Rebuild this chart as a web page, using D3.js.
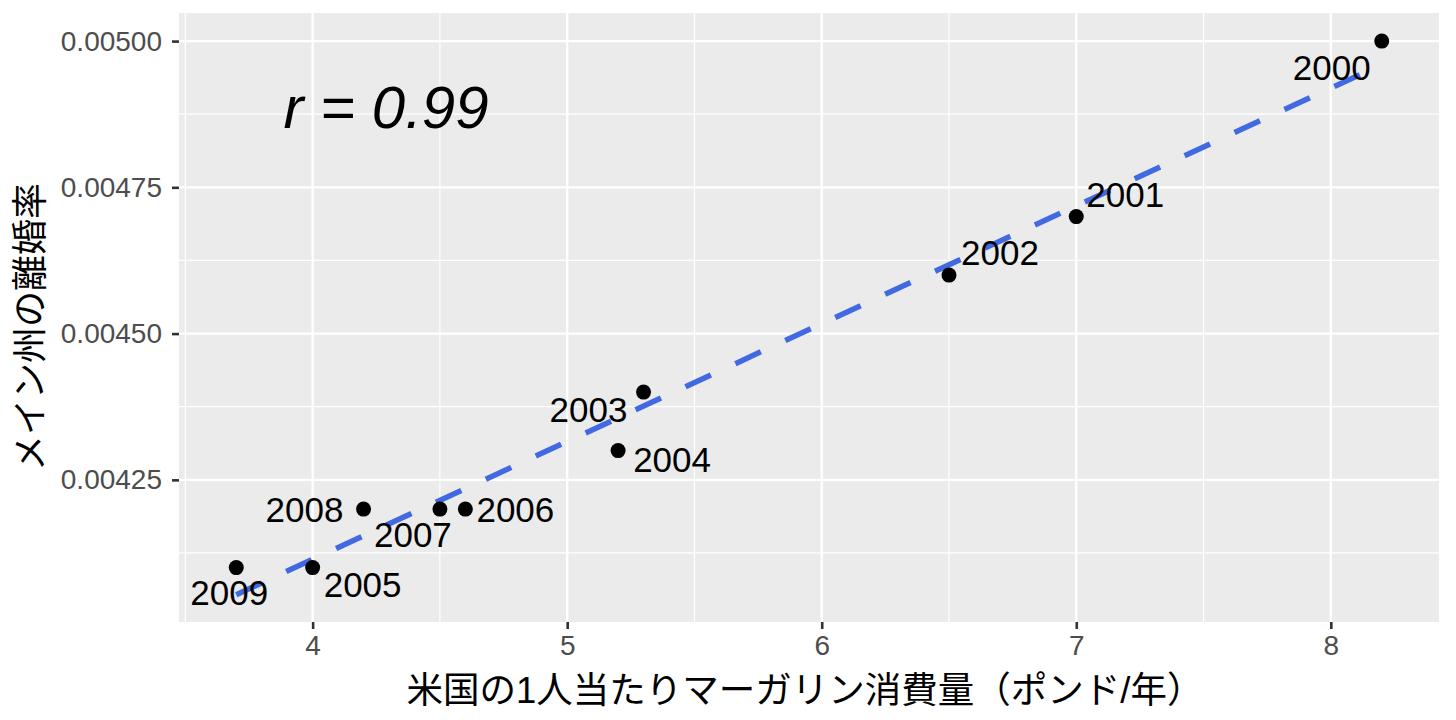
<!DOCTYPE html>
<html>
<head>
<meta charset="utf-8">
<script src="https://cdn.jsdelivr.net/npm/d3@7"></script>
<style>
  body { margin: 0; background: #ffffff; }
  text { font-family: 'Liberation Sans', 'Noto Sans CJK JP', sans-serif; }
</style>
</head>
<body>
<div id="chart"></div>
<script>
// データ
var years = [2000, 2001, 2002, 2003, 2004, 2005, 2006, 2007, 2008, 2009];
var margarine = [8.2, 7.0, 6.5, 5.3, 5.2, 4.0, 4.6, 4.5, 4.2, 3.7];
var divorceRate = [0.0050, 0.0047, 0.0046, 0.0044, 0.0043, 0.0041, 0.0042, 0.0042, 0.0042, 0.0041];
var xTicks = [4, 5, 6, 7, 8];
var yTicks = [0.00425, 0.00450, 0.00475, 0.00500];
var xTitle = '米国の1人当たりマーガリン消費量（ポンド/年）';
var yTitle = 'メイン州の離婚率';
var rText = 'r = 0.99';

// 画面
const width = 1456;
const height = 720;
const panel = {left: 179, right: 1439, top: 13, bottom: 622};
// ラベルのずらし (px, 点からの距離)
const labelNudge = [[-50, 39], [49, -10], [51, -10], [-55, 30], [54, 21],
                    [50, 29], [50, 13], [-27, 38], [-59, 13], [-7, 37]];

var points = years.map(function(y, i) {
  return {year: y, x: margarine[i], y: divorceRate[i], nudge: labelNudge[i]};
});

var svg = d3.select('#chart')
  .append('svg')
    .attr('width', width)
    .attr('height', height);

svg.append('rect')
  .attr('width', width)
  .attr('height', height)
  .attr('fill', '#ffffff');

// スケール
var xExt = d3.extent(margarine);
var xPad = (xExt[1] - xExt[0]) * 0.05;
var x = d3.scaleLinear()
  .domain([xExt[0] - xPad, xExt[1] + xPad])
  .range([panel.left, panel.right]);
var y = d3.scaleLinear()
  .domain([0.004007, 0.005048])
  .range([panel.bottom, panel.top]);

// 背景
svg.append('rect')
  .attr('x', panel.left)
  .attr('y', panel.top)
  .attr('width', panel.right - panel.left)
  .attr('height', panel.bottom - panel.top)
  .attr('fill', '#EBEBEB');

// 補助目盛り
function minorOf(ticks, scale) {
  var step = ticks[1] - ticks[0];
  var dom = scale.domain();
  var out = [];
  for (var v = ticks[0] - step / 2; v <= dom[1]; v += step) {
    if (v >= dom[0]) out.push(v);
  }
  return out;
}
var grid = svg.append('g').attr('class', 'grid');
grid.selectAll('line.xminor')
  .data(minorOf(xTicks, x))
  .enter().append('line')
  .attr('x1', d => x(d)).attr('x2', d => x(d))
  .attr('y1', panel.top).attr('y2', panel.bottom)
  .attr('stroke', '#ffffff').attr('stroke-width', 1.2);
grid.selectAll('line.yminor')
  .data(minorOf(yTicks, y))
  .enter().append('line')
  .attr('y1', d => y(d)).attr('y2', d => y(d))
  .attr('x1', panel.left).attr('x2', panel.right)
  .attr('stroke', '#ffffff').attr('stroke-width', 1.2);
grid.selectAll('line.xmajor')
  .data(xTicks)
  .enter().append('line')
  .attr('x1', d => x(d)).attr('x2', d => x(d))
  .attr('y1', panel.top).attr('y2', panel.bottom)
  .attr('stroke', '#ffffff').attr('stroke-width', 2.4);
grid.selectAll('line.ymajor')
  .data(yTicks)
  .enter().append('line')
  .attr('y1', d => y(d)).attr('y2', d => y(d))
  .attr('x1', panel.left).attr('x2', panel.right)
  .attr('stroke', '#ffffff').attr('stroke-width', 2.4);

// 軸
var xAxis = d3.axisBottom(x)
  .tickValues(xTicks)
  .tickSize(7)
  .tickPadding(6)
  .tickFormat(d3.format('d'));
var yAxis = d3.axisLeft(y)
  .tickValues(yTicks)
  .tickSize(7)
  .tickPadding(10)
  .tickFormat(d3.format('.5f'));

function styleAxis(g) {
  g.select('.domain').remove();
  g.selectAll('.tick line').attr('stroke', '#333333').attr('stroke-width', 2.6);
  g.selectAll('.tick text')
    .attr('fill', '#4D4D4D')
    .style('font-size', '28px')
    .style('font-family', "'Liberation Sans', sans-serif");
}
svg.append('g')
  .attr('transform', `translate(0, ${panel.bottom})`)
  .call(xAxis)
  .call(styleAxis);
svg.append('g')
  .attr('transform', `translate(${panel.left}, 0)`)
  .call(yAxis)
  .call(styleAxis);

// 回帰直線 (最小二乗)
var mx = d3.mean(margarine), my = d3.mean(divorceRate);
var sxy = d3.sum(margarine, (v, i) => (v - mx) * (divorceRate[i] - my));
var sxx = d3.sum(margarine, v => (v - mx) * (v - mx));
var slope = sxy / sxx;
var intercept = my - slope * mx;
svg.append('line')
  .attr('x1', x(xExt[0]))
  .attr('y1', y(intercept + slope * xExt[0]))
  .attr('x2', x(xExt[1]))
  .attr('y2', y(intercept + slope * xExt[1]))
  .attr('stroke', '#4169E1')
  .attr('stroke-width', 5.5)
  .attr('stroke-dasharray', '28,27');

// 点
svg.selectAll('circle.pt')
  .data(points)
  .enter().append('circle')
  .attr('class', 'pt')
  .attr('cx', d => x(d.x))
  .attr('cy', d => y(d.y))
  .attr('r', 7.5)
  .attr('fill', '#000000');

// 年ラベル
svg.selectAll('text.yearLabel')
  .data(points)
  .enter().append('text')
  .attr('class', 'yearLabel')
  .attr('x', d => x(d.x) + d.nudge[0])
  .attr('y', d => y(d.y) + d.nudge[1])
  .attr('text-anchor', 'middle')
  .style('font-size', '35px')
  .attr('fill', '#000000')
  .text(d => d.year);

// r = 0.99
svg.append('text')
  .attr('x', 386)
  .attr('y', 128)
  .attr('text-anchor', 'middle')
  .style('font-size', '60px')
  .style('font-style', 'italic')
  .attr('fill', '#000000')
  .text(rText);

// 軸タイトル
svg.append('text')
  .attr('x', 805)
  .attr('y', 703)
  .attr('text-anchor', 'middle')
  .style('font-size', '36.5px')
  .attr('fill', '#000000')
  .text(xTitle);
svg.append('text')
  .attr('transform', `translate(30, 327) rotate(-90)`)
  .attr('text-anchor', 'middle')
  .attr('dominant-baseline', 'central')
  .style('font-size', '36px')
  .attr('fill', '#000000')
  .text(yTitle);
</script>
</body>
</html>
